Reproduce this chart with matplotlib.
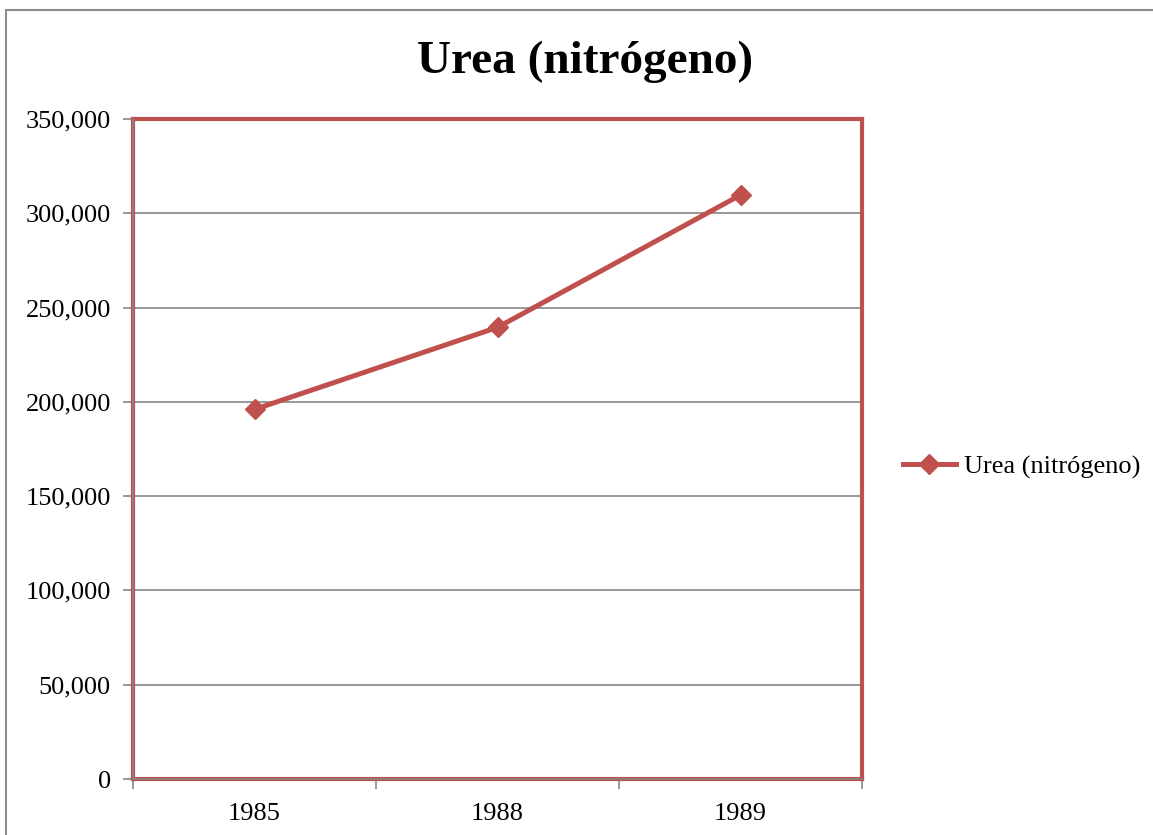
import matplotlib
matplotlib.use("Agg")
import matplotlib.pyplot as plt
from matplotlib.patches import Rectangle
from matplotlib.ticker import FuncFormatter

# data
years = ['1985', '1988', '1989']
urea = [196000, 239500, 309700]
series_name = 'Urea (nitrógeno)'
y_ticks = [0, 50000, 100000, 150000, 200000, 250000, 300000, 350000]

RED = '#C0504D'
GRAY = '#868686'

plt.rcParams['font.family'] = ['Liberation Serif', 'DejaVu Serif']

fig = plt.figure(figsize=(11.53, 8.35), dpi=100)

# outer chart frame
fig.patches.append(Rectangle((6 / 1153, -0.05), 1.2, (835 - 10) / 835 + 0.05,
                             transform=fig.transFigure, fill=False,
                             edgecolor='#8C8C8C', linewidth=1.5))

ax = fig.add_axes([133 / 1153, 56 / 835, 729 / 1153, 660 / 835])

x = list(range(len(years)))
ax.plot(x, urea, color=RED, linewidth=3.6, marker='D', markersize=10.5,
        label=series_name, zorder=4, clip_on=False)

ax.set_xlim(-0.5, len(years) - 0.5)
ax.set_ylim(0, 350000)
ax.set_yticks(y_ticks)
ax.yaxis.set_major_formatter(FuncFormatter(lambda v, p: f'{int(v):,}'))
ax.grid(axis='y', color=GRAY, linewidth=1.2, zorder=1)
ax.set_axisbelow(True)

# category ticks between the categories, labels in the middle
ax.set_xticks([i - 0.5 for i in range(len(years) + 1)])
ax.set_xticklabels([])
ax.set_xticks(x, minor=True)
ax.set_xticklabels(years, minor=True)
ax.tick_params(axis='x', which='major', length=7, width=1.2, color=GRAY, direction='out')
ax.tick_params(axis='x', which='minor', length=0, pad=17, labelsize=19)
ax.tick_params(axis='y', length=7, width=1.2, color=GRAY, pad=9, labelsize=19)

for s in ax.spines.values():
    s.set_color(RED)
    s.set_linewidth(3)

# gray axis lines inside the red border
ax.axhline(0, color=GRAY, linewidth=1.2, zorder=5, clip_on=False)
ax.axvline(-0.5, color=GRAY, linewidth=1.2, zorder=5, clip_on=False)

fig.text(585 / 1153, 1 - 62 / 835, series_name, ha='center', va='center',
         fontsize=34, fontweight='bold')

leg = ax.legend(loc='center left', bbox_to_anchor=((903 - 133) / 729, (779 - 467) / 660),
                frameon=False, fontsize=19, handlelength=2.0, handletextpad=0.3,
                borderpad=0, borderaxespad=0)

fig.savefig('out.png', dpi=100)
